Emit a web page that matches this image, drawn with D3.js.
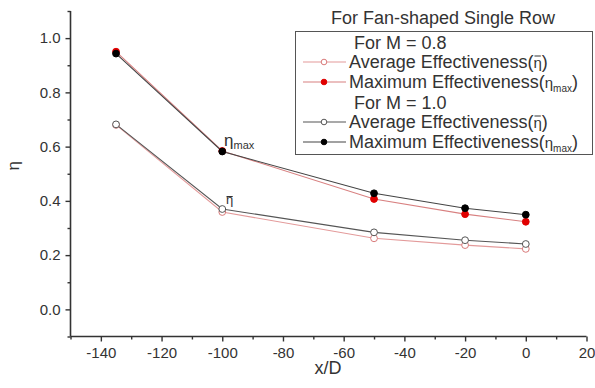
<!DOCTYPE html>
<html>
<head>
<meta charset="utf-8">
<script src="https://cdn.jsdelivr.net/npm/d3@7"></script>
<style>
  html, body { margin: 0; padding: 0; background: #fff; }
  svg text { font-family: "Liberation Sans", Arial, sans-serif; fill: #333; }
</style>
</head>
<body>
<svg id="chart" width="595" height="388"></svg>
<script>
// Streamwise positions (x/D)
const xPos = [-135, -100, -50, -20, 0];

// Film cooling effectiveness, fan-shaped single row
const avgM08 = [0.68, 0.359, 0.262, 0.237, 0.223];
const maxM08 = [0.95, 0.584, 0.407, 0.351, 0.323];
const avgM10 = [0.682, 0.370, 0.284, 0.255, 0.241];
const maxM10 = [0.943, 0.582, 0.428, 0.373, 0.349];

const xTicks = [-140, -120, -100, -80, -60, -40, -20, 0, 20];
const yTicks = [0.0, 0.2, 0.4, 0.6, 0.8, 1.0];

const svg = d3.select("#chart");
const x = d3.scaleLinear().domain([-150, 20]).range([70.5, 586.5]);
const y = d3.scaleLinear().domain([-0.1, 1.1]).range([336.5, 11]);

const axisColor = "#333";
const fmtX = d => String(d);            // plain hyphen for negatives
const fmtY = d => d.toFixed(1);

// Axes
const gx = svg.append("g").attr("transform", `translate(0,${y(-0.1)})`)
  .call(d3.axisBottom(x).tickValues(xTicks).tickSize(5).tickPadding(6).tickFormat(fmtX));
const gxMinor = svg.append("g").attr("transform", `translate(0,${y(-0.1)})`)
  .call(d3.axisBottom(x).tickValues(d3.range(-150, 21, 10).filter(v => v % 20 !== 0)).tickSize(3).tickFormat(""));
const gy = svg.append("g").attr("transform", `translate(${x(-150)},0)`)
  .call(d3.axisLeft(y).tickValues(yTicks).tickSize(5).tickPadding(5).tickFormat(fmtY));
const gyMinor = svg.append("g").attr("transform", `translate(${x(-150)},0)`)
  .call(d3.axisLeft(y).tickValues([-0.1, 0.1, 0.3, 0.5, 0.7, 0.9, 1.1]).tickSize(3).tickFormat(""));

[gx, gxMinor, gy, gyMinor].forEach(g => {
  g.selectAll(".domain").attr("stroke", axisColor).attr("stroke-width", 1.6);
  g.selectAll(".tick line").attr("stroke", axisColor).attr("stroke-width", 1.4);
  g.selectAll(".tick text").attr("font-size", 15).style("fill", "#333");
});
gx.select(".domain").attr("d", `M${x(-150)},0H${x(20)}`);
gxMinor.select(".domain").remove();
gy.select(".domain").attr("d", `M0,${y(1.1)}V${y(-0.1)}`);
gyMinor.select(".domain").remove();

// Axis titles
svg.append("text").attr("x", 328).attr("y", 374).attr("text-anchor", "middle")
  .attr("font-size", 18).text("x/D");
svg.append("text").attr("transform", `translate(19,${y(0.5) - 8}) rotate(-90)`)
  .attr("text-anchor", "middle").attr("font-size", 17).text("η");

// Series
const series = [
  { v: avgM10, line: "#555", mk: "#555", fill: "#fff", label: "Average Effectiveness(", sym: "bar" },
  { v: maxM10, line: "#444", mk: "#000", fill: "#000", label: "Maximum Effectiveness(", sym: "max" },
  { v: avgM08, line: "#e39a9a", mk: "#d97a7a", fill: "#fff", label: "Average Effectiveness(", sym: "bar" },
  { v: maxM08, line: "#d88080", mk: "#e00000", fill: "#e00000", label: "Maximum Effectiveness(", sym: "max" }
];
const lineGen = d3.line().x((d, i) => x(xPos[i])).y(d => y(d));

// red series underneath, then black
const order = [series[2], series[3], series[0], series[1]];
order.forEach(s => {
  svg.append("path").datum(s.v).attr("d", lineGen)
    .attr("fill", "none").attr("stroke", s.line).attr("stroke-width", 1.1);
});
order.forEach(s => {
  svg.selectAll(null).data(s.v).join("circle")
    .attr("cx", (d, i) => x(xPos[i])).attr("cy", d => y(d)).attr("r", 3.4)
    .attr("fill", s.fill).attr("stroke", s.mk).attr("stroke-width", 1);
});

// Annotations near x/D = -100
const ann1 = svg.append("text").attr("x", 224).attr("y", 146).attr("font-size", 17);
ann1.append("tspan").text("η");
ann1.append("tspan").attr("font-size", 11).attr("dy", 3).text("max");
const ann2 = svg.append("text").attr("x", 226).attr("y", 203.5).attr("font-size", 13).text("η");
const ab = ann2.node().getBBox();
svg.append("line").attr("x1", ab.x + 0.5).attr("x2", ab.x + ab.width - 0.5)
  .attr("y1", 196.5).attr("y2", 196.5).attr("stroke", "#333").attr("stroke-width", 1);

// Legend
svg.append("text").attr("x", 443).attr("y", 24).attr("text-anchor", "middle")
  .attr("font-size", 18).text("For Fan-shaped Single Row");
svg.append("rect").attr("x", 295.5).attr("y", 31.5).attr("width", 297).attr("height", 123)
  .attr("fill", "#fff").attr("stroke", "#555").attr("stroke-width", 1);

const legendRows = [
  { head: "For M = 0.8" },
  series[2], series[3],
  { head: "For M = 1.0" },
  series[0], series[1]
];
legendRows.forEach((r, i) => {
  const cy = 42 + i * 20;
  if (r.head) {
    svg.append("text").attr("x", 354).attr("y", cy + 7).attr("font-size", 18).text(r.head);
    return;
  }
  svg.append("line").attr("x1", 303).attr("x2", 346).attr("y1", cy).attr("y2", cy)
    .attr("stroke", r.line).attr("stroke-width", 1.1);
  svg.append("circle").attr("cx", 324).attr("cy", cy).attr("r", 2.8)
    .attr("fill", r.fill).attr("stroke", r.mk).attr("stroke-width", 1);
  const t = svg.append("text").attr("x", 349).attr("y", cy + 5.5).attr("font-size", 18);
  t.append("tspan").text(r.label);
  if (r.sym === "bar") {
    const eta = t.append("tspan").attr("font-size", 15).text("η");
    t.append("tspan").text(")");
    const bb = eta.node().getBBox();
    svg.append("line").attr("x1", bb.x + 1).attr("x2", bb.x + bb.width - 1)
      .attr("y1", cy - 6).attr("y2", cy - 6).attr("stroke", "#333").attr("stroke-width", 1);
  } else {
    t.append("tspan").attr("font-size", 15).text("η");
    t.append("tspan").attr("font-size", 10).attr("dy", 4).text("max");
    t.append("tspan").attr("dy", -4).text(")");
  }
});
</script>
</body>
</html>
